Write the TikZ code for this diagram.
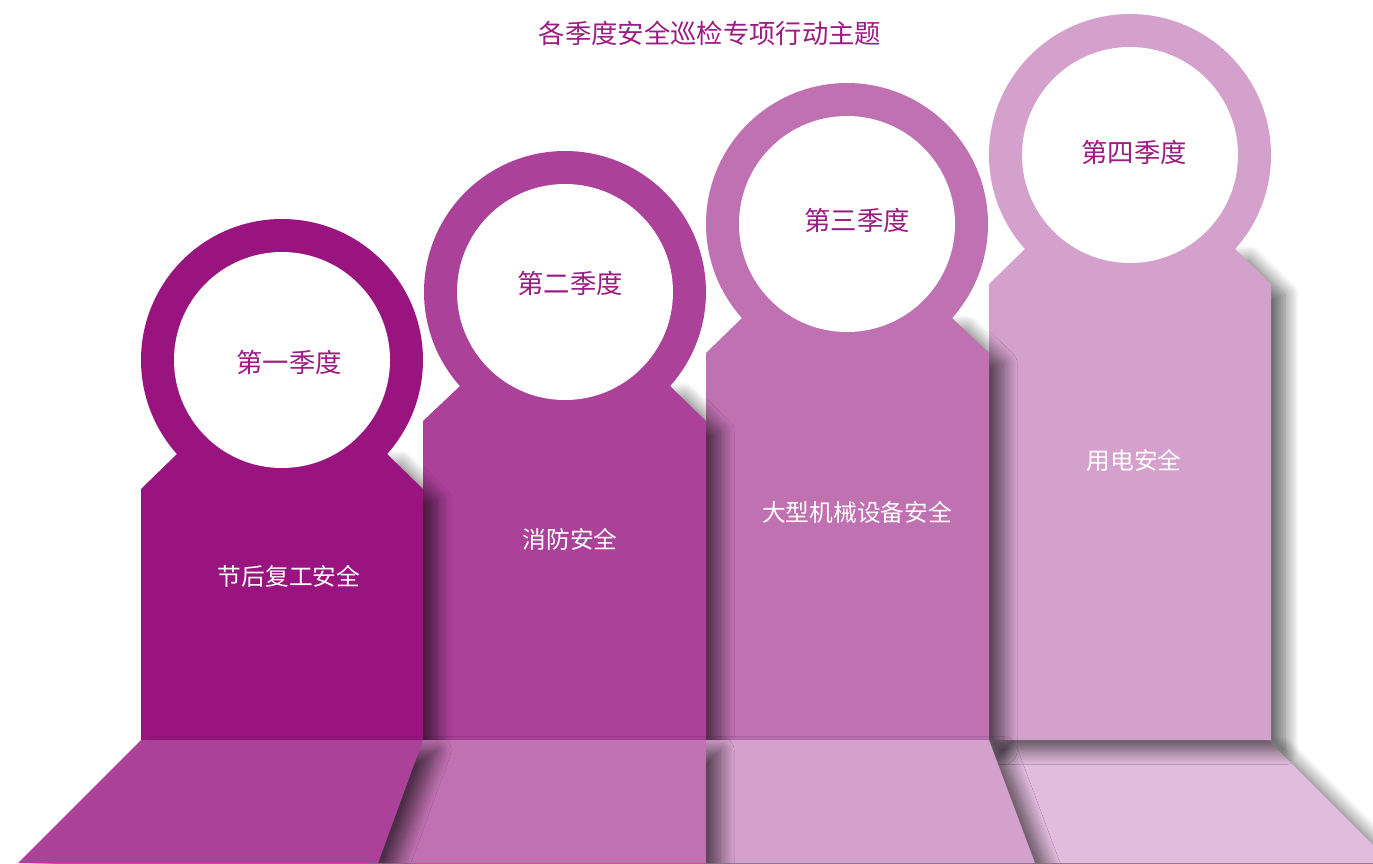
\documentclass[tikz,border=0pt]{standalone}
\usepackage{fontspec}
\setmainfont{Noto Sans CJK SC}
\usetikzlibrary{shadows.blur}

\definecolor{titlepurple}{HTML}{9B1C82}
\definecolor{quarterA}{HTML}{9A1480}
\definecolor{quarterB}{HTML}{AC4199}
\definecolor{quarterC}{HTML}{C071B1}
\definecolor{quarterD}{HTML}{D4A0CC}
\definecolor{floorlast}{HTML}{E1BCDC}

\tikzset{
  castshadow/.style={blur shadow={shadow xshift=8pt,shadow yshift=-6pt,
      shadow blur radius=8pt,shadow blur steps=14,shadow opacity=60}},
  season/.style={text=titlepurple,font=\fontsize{15}{18}\selectfont},
  topic/.style={text=white,font=\fontsize{13.5}{16}\selectfont}
}

\begin{document}
\begin{tikzpicture}[x=0.02cm,y=-0.02cm]
    \useasboundingbox (0,0) rectangle (1373,863);

    % floor under the fourth column, then the columns back to front
    \fill[floorlast,castshadow] (989,740) -- (1268,740) -- (1391,863) -- (1035,863) -- cycle;

    \fill[quarterD,castshadow] (989,740) -- (989,284) -- (1025,249) -- (1235,249)
      -- (1271,284) -- (1271,740) -- cycle;
    \fill[quarterD] (1130,155) circle[radius=141];
    \fill[white] (1130,155) circle[radius=108];

    \fill[quarterC,castshadow] (706,740) -- (706,353) -- (742,318) -- (952,318)
      -- (989,353) -- (989,740) -- cycle;
    \fill[quarterC] (847,224) circle[radius=141];
    \fill[white] (847,224) circle[radius=108];

    \fill[quarterB,castshadow] (423,740) -- (423,421) -- (460,386) -- (670,386)
      -- (706,421) -- (706,740) -- cycle;
    \fill[quarterB] (565,292) circle[radius=141];
    \fill[white] (565,292) circle[radius=108];

    \fill[quarterA,castshadow] (141,740) -- (141,489) -- (177,454) -- (387,454)
      -- (423,489) -- (423,740) -- cycle;
    \fill[quarterA] (282,360) circle[radius=141];
    \fill[white] (282,360) circle[radius=108];

    % floor pieces
    \fill[quarterD,castshadow] (706,740) -- (989,740) -- (1035,863) -- (706,863) -- cycle;
    \fill[quarterC,castshadow] (423,740) -- (706,740) -- (706,863) -- (378,863) -- cycle;
    \fill[quarterB,castshadow] (141,740) -- (423,740) -- (378,863) -- (18,863) -- cycle;

    \node[text=titlepurple,font=\fontsize{15}{18}\selectfont] (title) at (710,33)
      {各季度安全巡检专项行动主题};

    \node[season] (q1) at (289,362) {第一季度};
    \node[season] (q2) at (570,283) {第二季度};
    \node[season] (q3) at (857,220) {第三季度};
    \node[season] (q4) at (1134,152) {第四季度};

    \node[topic] (t1) at (289,576) {节后复工安全};
    \node[topic] (t2) at (570,539) {消防安全};
    \node[topic] (t3) at (857,512) {大型机械设备安全};
    \node[topic] (t4) at (1134,460) {用电安全};
\end{tikzpicture}
\end{document}
